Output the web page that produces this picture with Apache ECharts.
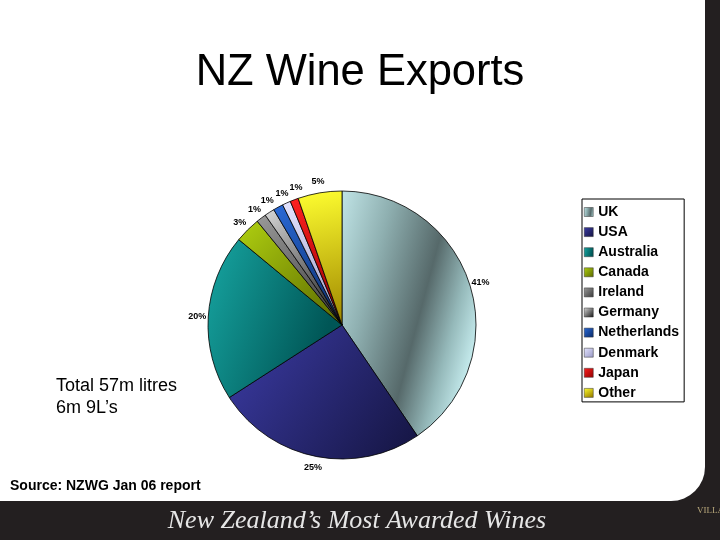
<!DOCTYPE html>
<html>
<head>
<meta charset="utf-8">
<script src="https://cdn.jsdelivr.net/npm/echarts@6/dist/echarts.min.js"></script>
<style>html,body{margin:0;padding:0;background:#231f20;}#c{width:720px;height:540px;}</style>
</head>
<body>
<div id="c"></div>
<script>
const titleText = 'NZ Wine Exports';
const categories = ['UK', 'USA', 'Australia', 'Canada', 'Ireland', 'Germany', 'Netherlands', 'Denmark', 'Japan', 'Other'];
const shares = [40.5, 25.4, 20.1, 3.1, 1.2, 1.2, 1.2, 1.0, 1.0, 5.3];
const noteLines = ['Total 57m litres', '6m 9L\u2019s'];
const sourceText = 'Source: NZWG Jan 06 report';
const bannerText = 'New Zealand\u2019s Most Awarded Wines';
const hiddenLabel = 'Netherlands';

function lg(x, y, x2, y2, stops) {
  return new echarts.graphic.LinearGradient(x, y, x2, y2,
    stops.map((c) => ({ offset: c[0], color: c[1] })));
}
const sliceColors = [
  lg(0, 0, 1.2, 0.174, [[0, '#c0e4e6'], [0.3, '#8fb0b1'], [0.64, '#56696a'], [0.85, '#95b9ba'], [1, '#c2e8ea']]),
  lg(0, 0, 1, 1, [[0, '#3c3ca6'], [1, '#141440']]),
  lg(0, 0, 1, 0.3, [[0, '#17a6a2'], [1, '#005656']]),
  lg(0, 0, 1, 1, [[0, '#b0d010'], [1, '#5a6800']]),
  lg(0, 0, 1, 1, [[0, '#9a9a9a'], [1, '#3a3a3a']]),
  lg(0, 0, 1, 1, [[0, '#d8d8d8'], [1, '#151515']]),
  lg(0, 0, 1, 1, [[0, '#2a6ad8'], [1, '#0a2a66']]),
  lg(0, 0, 1, 1, [[0, '#e4e4ff'], [1, '#9898c4']]),
  lg(0, 0, 1, 1, [[0, '#ff2020'], [1, '#900000']]),
  lg(0, 0, 0.6, 1, [[0, '#ffff30'], [1, '#a08800']])
];

const chart = echarts.init(document.getElementById('c'), null, { renderer: 'canvas' });

// label angles: slice mid-angles from the library's layout, pushed apart by a minimum gap
function labelAngles() {
  const data = chart.getModel().getSeriesByIndex(0).getData();
  const out = [];
  let prev = -Infinity;
  const minGap = 6 * Math.PI / 180;
  for (let i = 0; i < data.count(); i++) {
    const l = data.getItemLayout(i);
    let a = (l.startAngle + l.endAngle) / 2;
    if (categories[i] === hiddenLabel) { out.push({ a, cx: l.cx, cy: l.cy, r: l.r }); continue; }
    if (a < prev + minGap) a = prev + minGap;
    prev = a;
    out.push({ a, cx: l.cx, cy: l.cy, r: l.r });
  }
  return out;
}

chart.setOption({
  backgroundColor: '#231f20',
  animation: false,
  title: {
    text: titleText,
    left: 'center',
    top: 43,
    textStyle: { fontFamily: 'Liberation Sans, Arial, sans-serif', fontSize: 43.5, fontWeight: 'normal', color: '#000', lineHeight: 50 }
  },
  legend: {
    orient: 'vertical',
    left: 582,
    top: 199,
    padding: [6, 5, 2, 2],
    itemGap: 6.1,
    itemWidth: 9,
    itemHeight: 9,
    icon: 'rect',
    backgroundColor: '#fff',
    borderColor: '#000',
    borderWidth: 1,
    itemStyle: { borderColor: '#333', borderWidth: 0.5 },
    textStyle: { fontFamily: 'Liberation Sans, Arial, sans-serif', fontSize: 14, fontWeight: 'bold', color: '#000', lineHeight: 14 },
    data: categories
  },
  graphic: [
    { type: 'rect', z: -10, silent: true, shape: { x: 0, y: 0, width: 705, height: 501, r: [0, 0, 34, 0] }, style: { fill: '#fff' } },
    { type: 'text', x: 56, y: 386, style: { text: noteLines[0], font: '18px "Liberation Sans", Arial, sans-serif', fill: '#000', textVerticalAlign: 'middle' } },
    { type: 'text', x: 56, y: 408, style: { text: noteLines[1], font: '18px "Liberation Sans", Arial, sans-serif', fill: '#000', textVerticalAlign: 'middle' } },
    { type: 'text', x: 10, y: 486, style: { text: sourceText, font: 'bold 14px "Liberation Sans", Arial, sans-serif', fill: '#000', textVerticalAlign: 'middle' } },
    { type: 'text', x: 357, y: 521, style: { text: bannerText, font: 'italic 26px "Liberation Serif", "DejaVu Serif", serif', fill: '#e6e6e6', textAlign: 'center', textVerticalAlign: 'middle' } },
    { type: 'text', x: 697, y: 511, style: { text: 'VILLA MARIA', font: '9px "Liberation Serif", serif', fill: '#b9a97c', textVerticalAlign: 'middle' } }
  ],
  series: [{
    type: 'pie',
    center: [342, 325],
    radius: 134,
    startAngle: 90,
    clockwise: true,
    avoidLabelOverlap: false,
    itemStyle: { borderColor: '#000', borderWidth: 0.8 },
    label: {
      show: true,
      position: 'outside',
      formatter: p => Math.round(p.percent) + '%',
      fontFamily: 'Liberation Sans, Arial, sans-serif',
      fontSize: 9,
      fontWeight: 'bold',
      color: '#000'
    },
    labelLine: { show: false, length: 8, length2: 0 },
    labelLayout: function (params) {
      const info = labelAngles()[params.dataIndex];
      const rr = info.r + 11;
      return {
        x: info.cx + rr * Math.cos(info.a),
        y: info.cy + rr * Math.sin(info.a),
        align: 'center',
        verticalAlign: 'middle'
      };
    },
    emphasis: { disabled: true },
    data: categories.map((name, i) => ({
      name,
      value: shares[i],
      itemStyle: { color: sliceColors[i] },
      label: name === hiddenLabel ? { show: false } : undefined
    }))
  }]
});
</script>
</body>
</html>
